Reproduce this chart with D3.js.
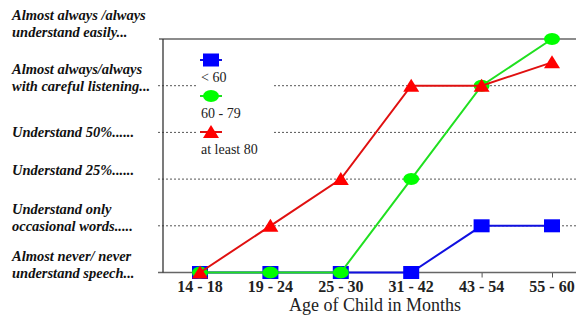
<!DOCTYPE html>
<html>
<head>
<meta charset="utf-8">
<script src="https://cdn.jsdelivr.net/npm/d3@7"></script>
<style>
  body { margin: 0; background: #fff; }
  svg { display: block; }
</style>
</head>
<body>
<div id="chart"></div>
<script>
// data
var ageGroups = ['14 - 18', '19 - 24', '25 - 30', '31 - 42', '43 - 54', '55 - 60'];
var under60 = [0, 0, 0, 0, 1, 1];
var from60to79 = [0, 0, 0, 2, 4, 5];
var atLeast80 = [0, 1, 2, 4, 4, 4.5];
var seriesNames = ['< 60', '60 - 79', 'at least 80'];
var levelLabels = [
    ['Almost never/ never', 'understand speech...'],
    ['Understand only', 'occasional words.....'],
    ['Understand 25%......'],
    ['Understand 50%......'],
    ['Almost always/always', 'with careful listening...'],
    ['Almost always /always', 'understand easily...']
];

var attrs = {
    svgWidth: 576,
    svgHeight: 318,
    axisLeft: 163,
    pointFirst: 200,
    pointStep: 70.4,
    top: 39,
    bottom: 272.5,
    font: '"Liberation Serif", "Times New Roman", serif'
};

var series = [
    { name: seriesNames[0], values: under60, color: '#0000ff', line: '#1010e0', shape: 'square' },
    { name: seriesNames[1], values: from60to79, color: '#00ff00', line: '#20e020', shape: 'circle' },
    { name: seriesNames[2], values: atLeast80, color: '#ff0000', line: '#e01010', shape: 'triangle' }
];

var svg = d3.select('#chart').append('svg')
    .attr('width', attrs.svgWidth)
    .attr('height', attrs.svgHeight);

// scales
var x = d3.scalePoint()
    .domain(ageGroups)
    .range([attrs.pointFirst, attrs.pointFirst + attrs.pointStep * (ageGroups.length - 1)]);

var y = d3.scaleLinear()
    .domain([0, 5])
    .range([attrs.bottom, attrs.top]);

// gridlines (dashed) at 1..4, solid at 5
[1, 2, 3, 4].forEach(function (v) {
    svg.append('line')
        .attr('x1', attrs.axisLeft - 5).attr('x2', attrs.svgWidth)
        .attr('y1', y(v)).attr('y2', y(v))
        .attr('stroke', '#555')
        .attr('stroke-width', 1)
        .attr('stroke-dasharray', '2,2');
});
svg.append('line')
    .attr('x1', attrs.axisLeft - 4).attr('x2', attrs.svgWidth)
    .attr('y1', y(5)).attr('y2', y(5))
    .attr('stroke', '#666').attr('stroke-width', 1.3);

// legend background (hides gridlines)
svg.append('rect')
    .attr('x', 196).attr('y', 50)
    .attr('width', 76).attr('height', 106)
    .attr('fill', '#fff');

// x axis
var xAxis = d3.axisBottom(x).tickSize(5).tickSizeOuter(0).tickFormat('');
var gx = svg.append('g')
    .attr('transform', 'translate(0,' + attrs.bottom + ')')
    .call(xAxis);
gx.select('.domain').remove();
gx.selectAll('.tick line').attr('stroke', '#555');
svg.append('line')
    .attr('x1', attrs.axisLeft - 5).attr('x2', attrs.svgWidth)
    .attr('y1', attrs.bottom).attr('y2', attrs.bottom)
    .attr('stroke', '#666').attr('stroke-width', 1.3);

svg.selectAll('.xlab')
    .data(ageGroups)
    .enter()
    .append('text')
    .attr('class', 'xlab')
    .attr('x', d => x(d))
    .attr('y', 292)
    .attr('text-anchor', 'middle')
    .style('font-family', attrs.font)
    .style('font-weight', 'bold')
    .style('font-size', '16px')
    .attr('fill', '#222')
    .text(d => d);

svg.append('text')
    .attr('x', 375).attr('y', 311)
    .attr('text-anchor', 'middle')
    .style('font-family', attrs.font)
    .style('font-size', '18px')
    .attr('fill', '#222')
    .text('Age of Child in Months');

// y axis line
svg.append('line')
    .attr('x1', attrs.axisLeft).attr('x2', attrs.axisLeft)
    .attr('y1', y(5)).attr('y2', attrs.bottom)
    .attr('stroke', '#333').attr('stroke-width', 1.3);

// y labels
var labelDy = [0, 0, -9, 0, 0, -7];
levelLabels.forEach(function (lines, i) {
    var t = svg.append('text')
        .attr('x', 12)
        .style('font-family', attrs.font)
        .style('font-weight', 'bold')
        .style('font-style', 'italic')
        .style('font-size', '14.5px')
        .attr('fill', '#111');
    var base = y(i) + labelDy[i] + 5;
    lines.forEach(function (s, j) {
        t.append('tspan')
            .attr('x', 12)
            .attr('y', base - (lines.length - 1 - j) * 17)
            .text(s);
    });
});

// markers
function drawMarker(g, shape, cx, cy, color) {
    if (shape === 'square') {
        g.append('rect')
            .attr('x', cx - 8).attr('y', cy - 6.5)
            .attr('width', 16).attr('height', 13)
            .attr('fill', color);
    } else if (shape === 'circle') {
        g.append('ellipse')
            .attr('cx', cx).attr('cy', cy)
            .attr('rx', 8).attr('ry', 6)
            .attr('fill', color);
    } else {
        g.append('path')
            .attr('d', 'M' + cx + ',' + (cy - 7) + 'L' + (cx + 8) + ',' + (cy + 6) + 'L' + (cx - 8) + ',' + (cy + 6) + 'Z')
            .attr('fill', color);
    }
}

var line = d3.line()
    .x((d, i) => x(ageGroups[i]))
    .y(d => y(d));

series.forEach(function (s) {
    var g = svg.append('g');
    g.append('path')
        .attr('d', line(s.values))
        .attr('fill', 'none')
        .attr('stroke', s.line)
        .attr('stroke-width', 2);
    s.values.forEach(function (v, i) {
        drawMarker(g, s.shape, x(ageGroups[i]), y(v), s.color);
    });
});

// legend
var legendY = [60, 96, 132];
series.forEach(function (s, i) {
    var g = svg.append('g');
    g.append('line')
        .attr('x1', 200).attr('x2', 222)
        .attr('y1', legendY[i]).attr('y2', legendY[i])
        .attr('stroke', s.line).attr('stroke-width', 2);
    drawMarker(g, s.shape, 211, legendY[i], s.color);
    g.append('text')
        .attr('x', 201).attr('y', legendY[i] + 22)
        .style('font-family', attrs.font)
        .style('font-size', '14px')
        .attr('fill', '#222')
        .text(s.name);
});
</script>
</body>
</html>
